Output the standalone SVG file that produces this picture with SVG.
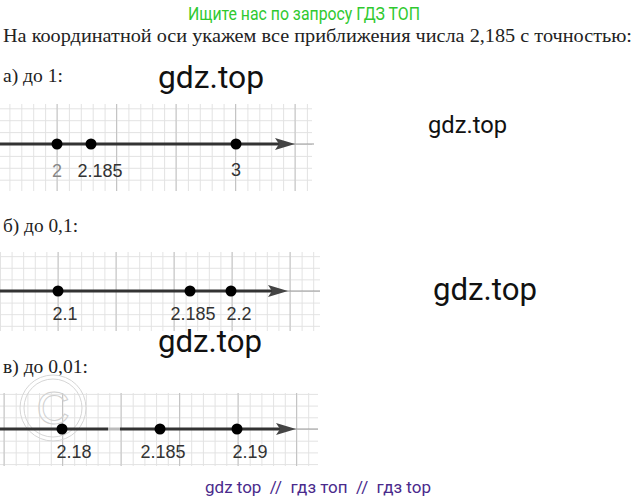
<svg xmlns="http://www.w3.org/2000/svg" width="634" height="502" viewBox="0 0 634 502">
<style>
.serif{font-family:"Liberation Serif","DejaVu Serif",serif;font-size:18px;fill:#222}
.lbl{font-family:"Liberation Sans",Arial,sans-serif;font-size:18px;fill:#333;text-anchor:middle}
.wm{font-family:Roboto,"Liberation Sans",sans-serif;fill:#111}
.axis{stroke:#333;stroke-width:3}
.thin{stroke:#999;stroke-width:1}
.major{stroke:#c4c4c4;stroke-width:1}
.dot{fill:#000}
.arrow{fill:#444}
</style>
<defs>
<pattern id="ga" x="57" y="144" width="11.9" height="11.9" patternUnits="userSpaceOnUse"><path d="M0.5 0V11.9M0 0.5H11.9" stroke="#e2e2e2" stroke-width="1" fill="none"/></pattern>
<pattern id="gb" x="58" y="291" width="11.6" height="11.6" patternUnits="userSpaceOnUse"><path d="M0.5 0V11.6M0 0.5H11.6" stroke="#e2e2e2" stroke-width="1" fill="none"/></pattern>
<pattern id="gc" x="62.5" y="429" width="11.7" height="11.7" patternUnits="userSpaceOnUse"><path d="M0.5 0V11.7M0 0.5H11.7" stroke="#e2e2e2" stroke-width="1" fill="none"/></pattern>
</defs>
<rect width="634" height="502" fill="#fff"/>

<text x="304" y="20" font-family="Roboto,'Liberation Sans',sans-serif" font-size="19" fill="#2fc92f" text-anchor="middle" textLength="232" lengthAdjust="spacingAndGlyphs">Ищите нас по запросу ГДЗ ТОП</text>
<text class="serif" x="3" y="42" textLength="629" lengthAdjust="spacingAndGlyphs">На координатной оси укажем все приближения числа 2,185 с точностью:</text>

<text class="serif" x="3" y="82" textLength="60" lengthAdjust="spacingAndGlyphs">а) до 1:</text>
<text class="serif" x="3" y="232" textLength="75" lengthAdjust="spacingAndGlyphs">б) до 0,1:</text>
<text class="serif" x="3" y="373" textLength="85" lengthAdjust="spacingAndGlyphs">в) до 0,01:</text>

<g id="axis-a">
<rect x="0" y="104" width="312" height="87" fill="url(#ga)"/>
<path class="major" d="M57 104V191M116.5 104V191M176 104V191M235.5 104V191M295 104V191"/>
<line class="thin" x1="280" y1="144" x2="314" y2="144"/>
<line class="axis" x1="0" y1="144" x2="280" y2="144"/>
<polygon class="arrow" points="275,138 295,144 275,150 279,144"/>
<circle class="dot" cx="57" cy="144" r="5.5"/>
<circle class="dot" cx="91" cy="144" r="5.5"/>
<circle class="dot" cx="236" cy="144" r="5.5"/>
<text class="lbl" x="57" y="177" style="fill:#888">2</text>
<text class="lbl" x="100" y="177">2.185</text>
<text class="lbl" x="236" y="176">3</text>
</g>

<g id="axis-b">
<rect x="0" y="252" width="320" height="79" fill="url(#gb)"/>
<path class="major" d="M58 252V331M116 252V331M174 252V331M232 252V331M290 252V331"/>
<line class="thin" x1="275" y1="291" x2="320" y2="291"/>
<line class="axis" x1="0" y1="291" x2="274" y2="291"/>
<polygon class="arrow" points="268,285 288,291 268,297 272,291"/>
<circle class="dot" cx="58" cy="291" r="5.5"/>
<circle class="dot" cx="190" cy="291" r="5.5"/>
<circle class="dot" cx="231" cy="291" r="5.5"/>
<text class="lbl" x="65" y="320">2.1</text>
<text class="lbl" x="193" y="320">2.185</text>
<text class="lbl" x="239" y="320">2.2</text>
</g>

<g id="axis-c">
<rect x="0" y="393" width="318" height="73" fill="url(#gc)"/>
<path class="major" d="M4 393V466M62.5 393V466M121 393V466M179.5 393V466M238 393V466M296.5 393V466"/>
<g fill="none" stroke="#d6d6d6" stroke-width="1">
<circle cx="53" cy="408" r="33"/>
<circle cx="53" cy="408" r="29"/>
</g>
<text x="53" y="424" font-family="'Liberation Sans',sans-serif" font-size="46" fill="none" stroke="#d0d0d0" stroke-width="1" text-anchor="middle">C</text>
<line class="thin" x1="283" y1="429" x2="318" y2="429"/>
<line class="axis" x1="0" y1="429" x2="108" y2="429"/>
<line x1="108" y1="429" x2="120" y2="429" stroke="#bbb" stroke-width="3"/>
<line class="axis" x1="120" y1="429" x2="282" y2="429"/>
<polygon class="arrow" points="276,423 296,429 276,435 280,429"/>
<circle class="dot" cx="62" cy="429" r="5.5"/>
<circle class="dot" cx="160" cy="429" r="5.5"/>
<circle class="dot" cx="237" cy="429" r="5.5"/>
<text class="lbl" x="74" y="458">2.18</text>
<text class="lbl" x="163" y="458">2.185</text>
<text class="lbl" x="250" y="458">2.19</text>
</g>

<text class="wm" x="158" y="88" font-size="32" textLength="106" lengthAdjust="spacingAndGlyphs">gdz.top</text>
<text class="wm" x="428" y="133" font-size="23" textLength="79" lengthAdjust="spacingAndGlyphs">gdz.top</text>
<text class="wm" x="433" y="300" font-size="31" textLength="104" lengthAdjust="spacingAndGlyphs">gdz.top</text>
<text class="wm" x="158" y="352" font-size="31" textLength="104" lengthAdjust="spacingAndGlyphs">gdz.top</text>

<text x="205" y="493" font-family="Roboto,'Liberation Sans',sans-serif" font-size="17" fill="#4a2a8c" textLength="226" lengthAdjust="spacingAndGlyphs" xml:space="preserve">gdz top  //  гдз топ  //  гдз top</text>
</svg>
